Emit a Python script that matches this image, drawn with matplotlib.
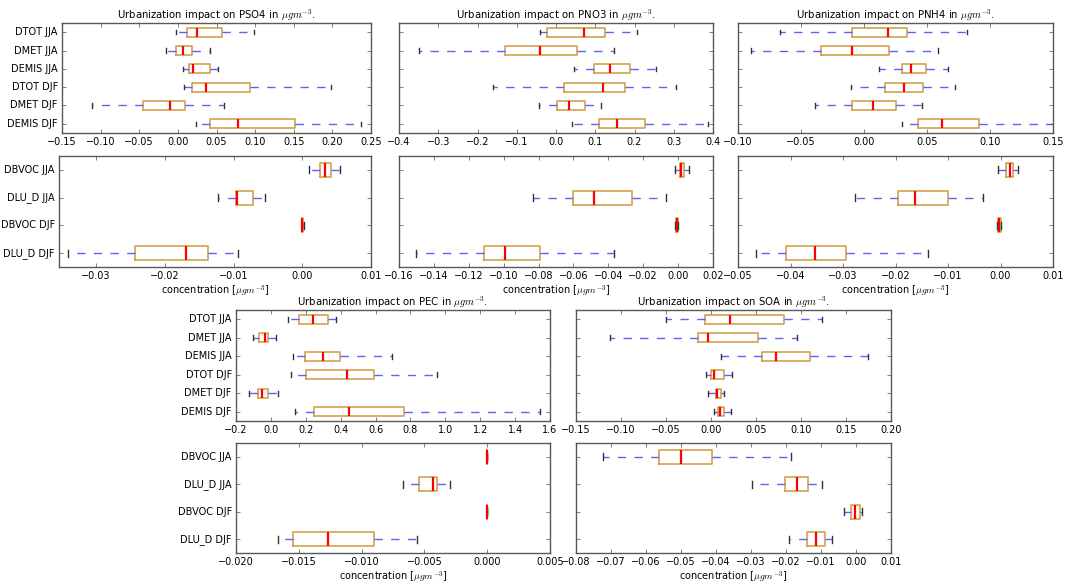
import matplotlib
matplotlib.use('Agg')
import matplotlib.pyplot as plt

plt.style.use('classic')
plt.rcParams['mathtext.fontset'] = 'cm'
plt.rcParams['font.family'] = ['DejaVu Sans']

# ---------------- data (top-to-bottom order) ----------------
labels_main = ['DTOT JJA', 'DMET JJA', 'DEMIS JJA', 'DTOT DJF', 'DMET DJF', 'DEMIS DJF']
labels_lu = ['DBVOC JJA', 'DLU_D JJA', 'DBVOC DJF', 'DLU_D DJF']

# PSO4
pso4_whislo = [-0.003, -0.016, 0.0065, 0.008, -0.111, 0.023]
pso4_q1     = [0.012, -0.003, 0.014, 0.0186, -0.045, 0.042]
pso4_med    = [0.025, 0.0065, 0.019, 0.037, -0.0104, 0.078]
pso4_q3     = [0.057, 0.0186, 0.042, 0.094, 0.0095, 0.152]
pso4_whishi = [0.0985, 0.041, 0.052, 0.198, 0.0596, 0.237]
pso4_lu_whislo = [0.001, -0.0122, -0.00005, -0.0341]
pso4_lu_q1     = [0.0026, -0.0097, 0.0, -0.0243]
pso4_lu_med    = [0.0033, -0.0095, 0.00002, -0.0169]
pso4_lu_q3     = [0.0042, -0.0071, 0.0001, -0.0137]
pso4_lu_whishi = [0.0055, -0.0054, 0.0002, -0.0093]

# PNO3
pno3_whislo = [-0.042, -0.349, 0.0455, -0.160, -0.044, 0.041]
pno3_q1     = [-0.022, -0.129, 0.0957, 0.020, 0.002, 0.109]
pno3_med    = [0.072, -0.040, 0.138, 0.1195, 0.0336, 0.155]
pno3_q3     = [0.126, 0.053, 0.1875, 0.177, 0.0727, 0.2267]
pno3_whishi = [0.206, 0.147, 0.255, 0.3066, 0.1135, 0.388]
pno3_lu_whislo = [-0.0015, -0.083, -0.0018, -0.150]
pno3_lu_q1     = [0.001, -0.0605, -0.0012, -0.1112]
pno3_lu_med    = [0.0015, -0.0485, -0.0007, -0.0993]
pno3_lu_q3     = [0.0034, -0.0263, -0.0002, -0.0791]
pno3_lu_whishi = [0.0065, -0.007, 0.0002, -0.0365]

# PNH4
pnh4_whislo = [-0.0667, -0.0894, 0.0122, -0.0106, -0.0386, 0.0302]
pnh4_q1     = [-0.0093, -0.0344, 0.0302, 0.0169, -0.0093, 0.0429]
pnh4_med    = [0.0188, -0.0093, 0.037, 0.0317, 0.0069, 0.0622]
pnh4_q3     = [0.0344, 0.0196, 0.0492, 0.0468, 0.0257, 0.0913]
pnh4_whishi = [0.0817, 0.0587, 0.0664, 0.0722, 0.046, 0.165]
pnh4_lu_whislo = [-0.0005, -0.0278, -0.0007, -0.0465]
pnh4_lu_q1     = [0.001, -0.0195, -0.0005, -0.0408]
pnh4_lu_med    = [0.0018, -0.0162, -0.0002, -0.0353]
pnh4_lu_q3     = [0.0024, -0.010, 0.0, -0.0294]
pnh4_lu_whishi = [0.0033, -0.0034, 0.0001, -0.0139]

# PEC
pec_whislo = [0.098, -0.103, 0.1245, 0.113, -0.1255, 0.140]
pec_q1     = [0.161, -0.068, 0.193, 0.199, -0.072, 0.245]
pec_med    = [0.239, -0.034, 0.300, 0.434, -0.049, 0.447]
pec_q3     = [0.327, -0.019, 0.398, 0.590, -0.019, 0.764]
pec_whishi = [0.371, 0.031, 0.697, 0.951, 0.0385, 1.543]
pec_lu_whislo = [0.0, -0.00674, 0.0, -0.01665]
pec_lu_q1     = [0.0, -0.00542, 0.0, -0.0155]
pec_lu_med    = [0.0, -0.00433, 0.0, -0.01267]
pec_lu_q3     = [0.0, -0.00396, 0.0, -0.009]
pec_lu_whishi = [0.0, -0.00295, 0.0, -0.00558]

# SOA
soa_whislo = [-0.0495, -0.1126, 0.0116, -0.0054, -0.0036, 0.0031]
soa_q1     = [-0.0062, -0.0147, 0.0572, 0.0005, 0.0053, 0.0076]
soa_med    = [0.0213, -0.0032, 0.072, 0.0035, 0.0065, 0.0102]
soa_q3     = [0.0806, 0.052, 0.1095, 0.0139, 0.0109, 0.0139]
soa_whishi = [0.1236, 0.0961, 0.174, 0.0235, 0.0139, 0.022]
soa_lu_whislo = [-0.0724, -0.0298, -0.0035, -0.0192]
soa_lu_q1     = [-0.0564, -0.0204, -0.0014, -0.0139]
soa_lu_med    = [-0.0501, -0.0168, -0.0002, -0.0114]
soa_lu_q3     = [-0.0412, -0.0138, 0.001, -0.009]
soa_lu_whishi = [-0.0187, -0.0096, 0.0018, -0.007]

# tick values
pso4_ticks = [-0.15, -0.10, -0.05, 0.00, 0.05, 0.10, 0.15, 0.20, 0.25]
pso4_lu_ticks = [-0.03, -0.02, -0.01, 0.00, 0.01]
pno3_ticks = [-0.4, -0.3, -0.2, -0.1, 0.0, 0.1, 0.2, 0.3, 0.4]
pno3_lu_ticks = [-0.16, -0.14, -0.12, -0.10, -0.08, -0.06, -0.04, -0.02, 0.00, 0.02]
pnh4_ticks = [-0.10, -0.05, 0.00, 0.05, 0.10, 0.15]
pnh4_lu_ticks = [-0.05, -0.04, -0.03, -0.02, -0.01, 0.00, 0.01]
pec_ticks = [-0.2, 0.0, 0.2, 0.4, 0.6, 0.8, 1.0, 1.2, 1.4, 1.6]
pec_lu_ticks = [-0.020, -0.015, -0.010, -0.005, 0.000, 0.005]
soa_ticks = [-0.15, -0.10, -0.05, 0.00, 0.05, 0.10, 0.15, 0.20]
soa_lu_ticks = [-0.08, -0.07, -0.06, -0.05, -0.04, -0.03, -0.02, -0.01, 0.00, 0.01]

# ---------------- layout ----------------
W, H = 1065, 586
fig = plt.figure(figsize=(W / 100, H / 100), dpi=100, facecolor='white')


def px_axes(l, r, t, b):
    return fig.add_axes([l / W, 1 - b / H, (r - l) / W, (b - t) / H])


box_col = '#d4a24c'
FS = 7
TFS = 7.3


def draw(ax, labels, wl, q1, med, q3, wh, xlim, xticks, show_labels):
    n = len(labels)
    stats = []
    for i in range(n):
        stats.append(dict(whislo=wl[i], q1=q1[i], med=med[i], q3=q3[i],
                          whishi=wh[i], fliers=[], label=labels[i]))
    positions = [n - i for i in range(n)]
    ax.bxp(stats, positions=positions, orientation='horizontal', widths=0.5,
           showfliers=False,
           boxprops=dict(color=box_col, linewidth=1.2),
           whiskerprops=dict(color='#6060ff', linestyle='--', linewidth=1.0),
           capprops=dict(color='#333333', linewidth=1.0),
           medianprops=dict(color='red', linewidth=1.6))
    ax.set_xlim(*xlim)
    ax.set_xticks(xticks)
    ax.set_ylim(0.5, n + 0.5)
    ax.set_yticks(positions)
    if show_labels:
        ax.set_yticklabels(labels, fontsize=FS)
    else:
        ax.set_yticklabels([])
    ax.tick_params(axis='x', labelsize=FS, pad=3)
    ax.tick_params(axis='y', pad=3)
    ax.tick_params(direction='in', length=3, color='0.3')
    for s in ax.spines.values():
        s.set_color('0.35')


unit = r'$\mu g m^{-3}$'
xlab = 'concentration [' + unit + ']'

specs = [
    ('PSO4', (62, 371, 23, 133), (59, 371, 156, 267),
     (pso4_whislo, pso4_q1, pso4_med, pso4_q3, pso4_whishi),
     (pso4_lu_whislo, pso4_lu_q1, pso4_lu_med, pso4_lu_q3, pso4_lu_whishi),
     (-0.15, 0.25), pso4_ticks, (-0.0354, 0.01), pso4_lu_ticks, True),
    ('PNO3', (399, 713, 23, 133), (399, 713, 156, 267),
     (pno3_whislo, pno3_q1, pno3_med, pno3_q3, pno3_whishi),
     (pno3_lu_whislo, pno3_lu_q1, pno3_lu_med, pno3_lu_q3, pno3_lu_whishi),
     (-0.4, 0.4), pno3_ticks, (-0.16, 0.02), pno3_lu_ticks, False),
    ('PNH4', (738, 1053, 23, 133), (738, 1053, 156, 267),
     (pnh4_whislo, pnh4_q1, pnh4_med, pnh4_q3, pnh4_whishi),
     (pnh4_lu_whislo, pnh4_lu_q1, pnh4_lu_med, pnh4_lu_q3, pnh4_lu_whishi),
     (-0.10, 0.15), pnh4_ticks, (-0.05, 0.01), pnh4_lu_ticks, False),
    ('PEC', (236, 550, 310, 421), (236, 550, 443, 553),
     (pec_whislo, pec_q1, pec_med, pec_q3, pec_whishi),
     (pec_lu_whislo, pec_lu_q1, pec_lu_med, pec_lu_q3, pec_lu_whishi),
     (-0.2, 1.6), pec_ticks, (-0.02, 0.005), pec_lu_ticks, True),
    ('SOA', (576, 891, 310, 421), (576, 891, 443, 553),
     (soa_whislo, soa_q1, soa_med, soa_q3, soa_whishi),
     (soa_lu_whislo, soa_lu_q1, soa_lu_med, soa_lu_q3, soa_lu_whishi),
     (-0.15, 0.20), soa_ticks, (-0.08, 0.01), soa_lu_ticks, False),
]

for name, up, low, dup, dlow, xu, tu, xl, tl, lab in specs:
    ax1 = px_axes(*up)
    draw(ax1, labels_main, *dup, xu, tu, lab)
    ax1.set_title('Urbanization impact on ' + name + ' in ' + unit + '.',
                  fontsize=TFS, pad=3)
    ax2 = px_axes(*low)
    draw(ax2, labels_lu, *dlow, xl, tl, lab)
    ax2.set_xlabel(xlab, fontsize=FS, labelpad=2)

fig.savefig('out.png', dpi=100, facecolor='white')
